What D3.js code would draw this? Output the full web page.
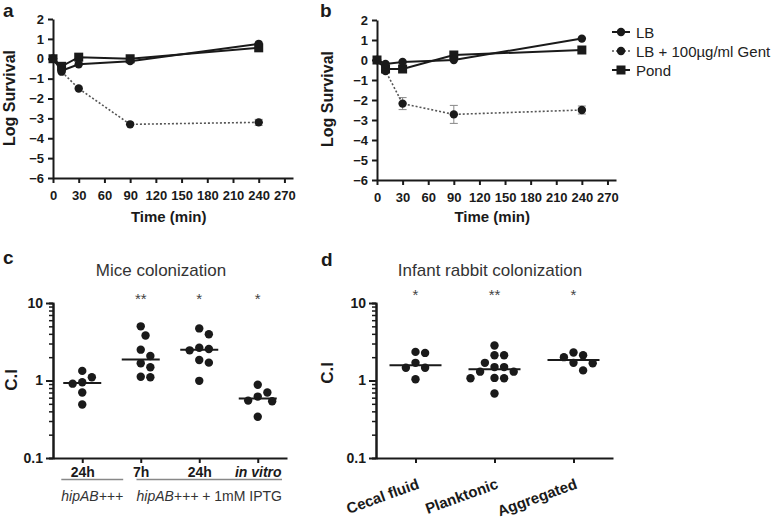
<!DOCTYPE html>
<html><head><meta charset="utf-8">
<script src="https://cdn.jsdelivr.net/npm/d3@7"></script>
<style>body{margin:0;background:#fff} svg{display:block;font-family:"Liberation Sans",Arial,sans-serif}</style>
</head><body><svg id="chart" width="774" height="519"></svg>
<script>
// ---------- data ----------
const times = [0, 10, 30, 90, 240];
const timeTicks = [0, 30, 60, 90, 120, 150, 180, 210, 240, 270];
const survTicks = [2, 1, 0, -1, -2, -3, -4, -5, -6];
const seriesNames = ["LB", "LB + 100µg/ml Gent", "Pond"];

const lbA = [0, -0.6, -0.28, -0.12, 0.75];
const gentA = [0, -0.65, -1.5, -3.3, -3.2];
const gentErrA = [0, 0, 0, 0, 0.15];
const pondA = [0, -0.38, 0.08, 0, 0.55];

const lbB = [0, -0.2, -0.1, 0, 1.07];
const gentB = [0, -0.55, -2.18, -2.72, -2.5];
const gentErrB = [0, 0.05, 0.3, 0.45, 0.2];
const pondB = [0, -0.45, -0.45, 0.25, 0.5];

const miceCats = ["24h", "7h", "24h", "in vitro"];
const miceG1 = [1.33, 1.1, 0.95, 0.91, 0.70, 0.49];
const miceG2 = [5.0, 3.8, 2.5, 2.07, 1.67, 1.48, 1.12, 1.1];
const miceG3 = [4.7, 3.96, 2.65, 2.55, 2.45, 1.84, 1.7, 0.99];
const miceG4 = [0.88, 0.70, 0.62, 0.55, 0.54, 0.34];
const miceStars = ["", "**", "*", "*"];
const miceBrackets = [["hipAB", "+++", "", 0, 0], ["hipAB", "+++", " + 1mM IPTG", 1, 3]];

const rabbitCats = ["Cecal fluid", "Planktonic", "Aggregated"];
const rabbitG1 = [2.34, 2.27, 1.69, 1.46, 1.46, 1.04];
const rabbitG2 = [2.83, 2.12, 2.12, 1.69, 1.49, 1.49, 1.30, 1.30, 1.08, 1.07, 1.07, 0.68];
const rabbitG3 = [2.3, 2.12, 2.0, 1.69, 1.67, 1.35];
const rabbitStars = ["*", "**", "*"];
const logMajor = [0.1, 1, 10];

// ---------- drawing ----------
const svg = d3.select("#chart");
const INK = "#1a1a1a";

function styleAxis(g, fs) {
  g.selectAll("path.domain").attr("stroke", INK).attr("stroke-width", 2);
  g.selectAll(".tick line").attr("stroke", INK).attr("stroke-width", 2);
  g.selectAll(".tick text").attr("fill", INK).attr("font-size", fs).attr("font-weight", "bold")
    .attr("font-family", '"Liberation Sans",Arial,sans-serif');
}

function letter(t, x, y) {
  svg.append("text").attr("x", x).attr("y", y).text(t)
    .attr("font-size", 19).attr("font-weight", "bold").attr("fill", INK);
}
function vlabel(t, x, y, fs) {
  svg.append("text").attr("transform", `translate(${x},${y}) rotate(-90)`)
    .attr("text-anchor", "middle").attr("font-size", fs).attr("font-weight", "bold")
    .attr("fill", INK).text(t);
}

function timePanel(xr, yr, lb, gent, gentErr, pond) {
  const x = d3.scaleLinear().domain([0, 280]).range(xr);
  const y = d3.scaleLinear().domain([-6, 2]).range(yr);
  const ya = svg.append("g").attr("transform", `translate(${xr[0]},0)`)
    .call(d3.axisLeft(y).tickValues(survTicks).tickSize(5).tickSizeOuter(0).tickPadding(4));
  styleAxis(ya, 13);
  const xa = svg.append("g").attr("transform", `translate(0,${yr[0]})`)
    .call(d3.axisBottom(x).tickValues(timeTicks).tickSize(5).tickSizeOuter(0).tickPadding(8));
  styleAxis(xa, 13);
  svg.append("text").attr("x", (x(0) + x(270)) / 2).attr("y", 222).attr("text-anchor", "middle")
    .attr("font-size", 15).attr("font-weight", "bold").attr("fill", INK).text("Time (min)");

  const line = vals => d3.line().x((d, i) => x(times[i])).y(d => y(d))(vals);
  gent.forEach((v, i) => {
    const e = gentErr[i];
    if (e > 0.1) {
      const g = svg.append("g").attr("stroke", "#888").attr("stroke-width", 1);
      g.append("line").attr("x1", x(times[i])).attr("x2", x(times[i])).attr("y1", y(v - e)).attr("y2", y(v + e));
      [v - e, v + e].forEach(b => g.append("line").attr("x1", x(times[i]) - 4).attr("x2", x(times[i]) + 4).attr("y1", y(b)).attr("y2", y(b)));
    }
  });
  svg.append("path").attr("d", line(gent)).attr("fill", "none").attr("stroke", "#555")
    .attr("stroke-width", 1.6).attr("stroke-dasharray", "2,2");
  svg.selectAll(null).data(gent).enter().append("circle")
    .attr("cx", (d, i) => x(times[i])).attr("cy", d => y(d)).attr("r", 4.2).attr("fill", INK);
  svg.append("path").attr("d", line(pond)).attr("fill", "none").attr("stroke", INK).attr("stroke-width", 2);
  svg.selectAll(null).data(pond).enter().append("rect")
    .attr("x", (d, i) => x(times[i]) - 4.5).attr("y", d => y(d) - 4.5).attr("width", 9).attr("height", 9).attr("fill", INK);
  svg.append("path").attr("d", line(lb)).attr("fill", "none").attr("stroke", INK).attr("stroke-width", 2);
  svg.selectAll(null).data(lb).enter().append("circle")
    .attr("cx", (d, i) => x(times[i])).attr("cy", d => y(d)).attr("r", 4.2).attr("fill", INK);
}

letter("a", 3, 17);
vlabel("Log Survival", 15, 98, 16);
timePanel([53, 293], [178, 19], lbA, gentA, gentErrA, pondA);
letter("b", 320, 17);
vlabel("Log Survival", 333, 99, 16);
timePanel([377, 616], [180, 20], lbB, gentB, gentErrB, pondB);

// legend
const legY = d3.scalePoint().domain(seriesNames).range([32, 70]);
seriesNames.forEach((n, i) => {
  const yy = legY(n);
  svg.append("line").attr("x1", 612).attr("x2", 630).attr("y1", yy).attr("y2", yy)
    .attr("stroke", i === 1 ? "#555" : INK).attr("stroke-width", i === 1 ? 1.6 : 2)
    .attr("stroke-dasharray", i === 1 ? "2,2" : null);
  if (i === 2) svg.append("rect").attr("x", 616.5).attr("y", yy - 4.5).attr("width", 9).attr("height", 9).attr("fill", INK);
  else svg.append("circle").attr("cx", 621).attr("cy", yy).attr("r", 4.2).attr("fill", INK);
  svg.append("text").attr("x", 636).attr("y", yy + 5.5).attr("font-size", 15).attr("fill", "#222").text(n);
});

// beeswarm offsets computed from pixel positions
function swarm(ys, r) {
  const order = d3.range(ys.length).sort((a, b) => ys[a] - ys[b]);
  const placed = [];
  const off = new Array(ys.length).fill(0);
  const minD = 2 * r + 1.2;
  order.forEach(k => {
    const cands = [0];
    for (let s = 1; s < 12; s++) { cands.push(s * minD / 2, -s * minD / 2); }
    for (const c of cands) {
      if (placed.every(p => Math.hypot(p[0] - c, p[1] - ys[k]) >= minD)) { off[k] = c; placed.push([c, ys[k]]); break; }
    }
  });
  return off;
}

function dotPanel(xr, cats, groups, stars, halfW, starY) {
  const y = d3.scaleLog().domain([0.1, 10]).range([458, 303]);
  const x = d3.scalePoint().domain(d3.range(cats.length)).range(xr).padding(0.5);
  const minors = [];
  [0.1, 1].forEach(b => { for (let m = 2; m <= 9; m++) minors.push(b * m); });
  const ym = svg.append("g").attr("transform", `translate(${xr[0]},0)`)
    .call(d3.axisLeft(y).tickValues(minors).tickSize(4).tickFormat(""));
  styleAxis(ym, 13);
  ym.selectAll(".tick line").attr("stroke-width", 1.5);
  const ya = svg.append("g").attr("transform", `translate(${xr[0]},0)`)
    .call(d3.axisLeft(y).tickValues(logMajor).tickSize(7).tickSizeOuter(0).tickPadding(3).tickFormat(d => String(d)));
  styleAxis(ya, 14);
  const xa = svg.append("g").attr("transform", `translate(0,458)`)
    .call(d3.axisBottom(x).tickSize(5).tickSizeOuter(0).tickPadding(4).tickFormat(i => cats[i]));
  styleAxis(xa, 14);
  const r = 4.2;
  groups.forEach((vals, gi) => {
    const ys = vals.map(v => y(v));
    const off = swarm(ys, r);
    svg.selectAll(null).data(vals).enter().append("circle")
      .attr("cx", (d, i) => x(gi) + off[i]).attr("cy", d => y(d)).attr("r", r).attr("fill", INK);
    const med = d3.median(vals);
    svg.append("line").attr("x1", x(gi) - halfW).attr("x2", x(gi) + halfW)
      .attr("y1", y(med)).attr("y2", y(med)).attr("stroke", INK).attr("stroke-width", 2);
    svg.append("text").attr("x", x(gi)).attr("y", starY).attr("text-anchor", "middle")
      .attr("font-size", 15).attr("fill", "#444").text(stars[gi]);
  });
  return { x, xa };
}

// panel c
letter("c", 3, 264);
vlabel("C.I", 17, 380, 17);
svg.append("text").attr("x", 161).attr("y", 276).attr("text-anchor", "middle")
  .attr("font-size", 17).attr("fill", "#333").text("Mice colonization");
const pc = dotPanel([53, 287], miceCats, [miceG1, miceG2, miceG3, miceG4], miceStars, 19, 304);
pc.xa.selectAll(".tick text").filter(i => miceCats[i] === "in vitro").attr("font-style", "italic");
const stepC = pc.x.step();
miceBrackets.forEach(([it, plus, rest, from, to]) => {
  const cx = (pc.x(from) - stepC / 2 + pc.x(to) + stepC / 2) / 2 + 10;
  const t = svg.append("text").attr("x", cx).attr("y", 501).attr("text-anchor", "middle")
    .attr("font-size", 14).attr("fill", "#333");
  t.append("tspan").attr("font-style", "italic").text(it);
  t.append("tspan").attr("font-style", "italic").text(plus);
  if (rest) t.append("tspan").text(rest);
  const w = t.node().getComputedTextLength();
  svg.append("line").attr("x1", cx - w / 2).attr("x2", cx + w / 2).attr("y1", 479.5).attr("y2", 479.5)
    .attr("stroke", "#888").attr("stroke-width", 1.5);
});

// panel d
letter("d", 321, 266);
vlabel("C.I", 333, 373, 17);
svg.append("text").attr("x", 490).attr("y", 276).attr("text-anchor", "middle")
  .attr("font-size", 17).attr("fill", "#333").text("Infant rabbit colonization");
const pd = dotPanel([376, 613], rabbitCats, [rabbitG1, rabbitG2, rabbitG3], rabbitStars, 26, 300);
pd.xa.selectAll(".tick text")
  .attr("text-anchor", "end").attr("dy", null).attr("y", null)
  .attr("font-size", 15)
  .attr("transform", "translate(4,30) rotate(-20)");
</script></body></html>
